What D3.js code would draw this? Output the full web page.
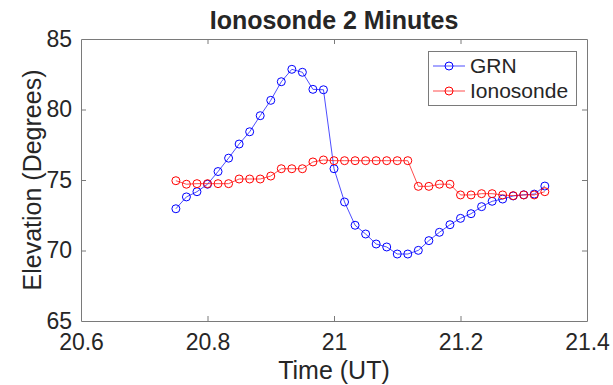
<!DOCTYPE html>
<html>
<head>
<meta charset="utf-8">
<script src="https://cdn.jsdelivr.net/npm/d3@7"></script>
<style>
  html, body { margin: 0; padding: 0; background: #fff; }
  svg { display: block; }
  text { font-family: "Liberation Sans", Arial, Helvetica, sans-serif; fill: #262626; }
</style>
</head>
<body>
<svg id="chart" width="613" height="385"></svg>
<script>
// One-minute samples from 20:45 to 21:20 UT (decimal hours)
const startHour = 20.75;
const minutes = d3.range(36);
const grnElevation = [
  72.96, 73.80, 74.17, 74.70, 75.60, 76.55, 77.55, 78.42, 79.56, 80.65,
  81.97, 82.85, 82.64, 81.43, 81.40, 75.80, 73.44, 71.79, 71.17, 70.46,
  70.25, 69.75, 69.75, 70.01, 70.70, 71.29, 71.83, 72.28, 72.61, 73.11,
  73.49, 73.65, 73.87, 73.95, 74.00, 74.57
];
const ionosondeElevation = [
  74.95, 74.70, 74.74, 74.74, 74.74, 74.74, 75.07, 75.07, 75.07, 75.28,
  75.80, 75.80, 75.80, 76.28, 76.42, 76.37, 76.37, 76.37, 76.37, 76.37,
  76.37, 76.37, 76.37, 74.55, 74.55, 74.70, 74.70, 73.94, 73.94, 74.03,
  74.03, 73.94, 73.89, 73.94, 73.94, 74.17
];
const xTicks = [20.6, 20.8, 21, 21.2, 21.4];
const yTicks = [65, 70, 75, 80, 85];
const seriesNames = ["GRN", "Ionosonde"];
const seriesColors = ["#0000ff", "#ff0000"];

const times = minutes.map(m => startHour + m / 60);
const series = [grnElevation, ionosondeElevation].map((vals, i) => ({
  name: seriesNames[i],
  color: seriesColors[i],
  points: vals.map((v, j) => ({ t: times[j], v }))
}));

const svg = d3.select("#chart");
const plotL = 81, plotR = 587, plotT = 39, plotB = 321;

const x = d3.scaleLinear().domain([20.6, 21.4]).range([plotL, plotR]);
const y = d3.scaleLinear().domain([65, 85]).range([plotB, plotT]);

const axisColor = "#7a7a7a";
const tickLen = 5;
const tickFont = 23;
const fmt = d => String(+d.toFixed(1));

// Bottom and top axes (ticks pointing inward)
const gx = svg.append("g").attr("transform", `translate(0,${plotB})`)
  .call(d3.axisBottom(x).tickValues(xTicks).tickFormat(fmt).tickSizeInner(-tickLen).tickSizeOuter(0).tickPadding(13));
const gxTop = svg.append("g").attr("transform", `translate(0,${plotT})`)
  .call(d3.axisTop(x).tickValues(xTicks).tickFormat("").tickSizeInner(-tickLen).tickSizeOuter(0));
// Left and right axes
const gy = svg.append("g").attr("transform", `translate(${plotL},0)`)
  .call(d3.axisLeft(y).tickValues(yTicks).tickFormat(fmt).tickSizeInner(-tickLen).tickSizeOuter(0).tickPadding(9));
const gyRight = svg.append("g").attr("transform", `translate(${plotR},0)`)
  .call(d3.axisRight(y).tickValues(yTicks).tickFormat("").tickSizeInner(-tickLen).tickSizeOuter(0));

[gx, gxTop, gy, gyRight].forEach(g => {
  g.select(".domain").attr("stroke", axisColor).attr("stroke-width", 1);
  g.selectAll(".tick line").attr("stroke", axisColor);
  g.selectAll(".tick text").attr("font-size", tickFont).attr("fill", "#262626")
    .style("font-family", "'Liberation Sans', Arial, sans-serif");
});
// Hide the end ticks that coincide with the box edges
gx.selectAll(".tick").filter(d => d === 20.6 || d === 21.4).select("line").remove();
gxTop.selectAll(".tick").filter(d => d === 20.6 || d === 21.4).select("line").remove();
gy.selectAll(".tick").filter(d => d === 65 || d === 85).select("line").remove();
gyRight.selectAll(".tick").filter(d => d === 65 || d === 85).select("line").remove();

// Series: thin lines with open circle markers
const line = d3.line().x(d => x(d.t)).y(d => y(d.v));
series.forEach(s => {
  const g = svg.append("g");
  g.append("path").datum(s.points).attr("d", line)
    .attr("fill", "none").attr("stroke", s.color).attr("stroke-width", 0.7);
  g.selectAll("circle").data(s.points).join("circle")
    .attr("cx", d => x(d.t)).attr("cy", d => y(d.v)).attr("r", 4)
    .attr("fill", "none").attr("stroke", s.color).attr("stroke-width", 1);
});

// Legend
const lg = svg.append("g");
lg.append("rect").attr("x", 428.5).attr("y", 51.5).attr("width", 148).attr("height", 54)
  .attr("fill", "#fff").attr("stroke", axisColor).attr("stroke-width", 1);
series.forEach((s, i) => {
  const cy = 66 + i * 25;
  lg.append("line").attr("x1", 433).attr("x2", 465).attr("y1", cy).attr("y2", cy)
    .attr("stroke", s.color).attr("stroke-width", 0.7);
  lg.append("circle").attr("cx", 449).attr("cy", cy).attr("r", 4)
    .attr("fill", "none").attr("stroke", s.color).attr("stroke-width", 1);
  lg.append("text").attr("x", 470).attr("y", cy).attr("dy", "0.35em")
    .attr("font-size", 21).text(s.name);
});

// Title and axis labels
svg.append("text").attr("x", (plotL + plotR) / 2).attr("y", 29)
  .attr("text-anchor", "middle").attr("font-size", 25).attr("font-weight", "bold")
  .attr("fill", "#000").text("Ionosonde 2 Minutes");
svg.append("text").attr("x", (plotL + plotR) / 2).attr("y", 379)
  .attr("text-anchor", "middle").attr("font-size", 25).text("Time (UT)");
svg.append("text")
  .attr("transform", `translate(41,${(plotT + plotB) / 2}) rotate(-90)`)
  .attr("text-anchor", "middle").attr("font-size", 25).text("Elevation (Degrees)");
</script>
</body>
</html>
